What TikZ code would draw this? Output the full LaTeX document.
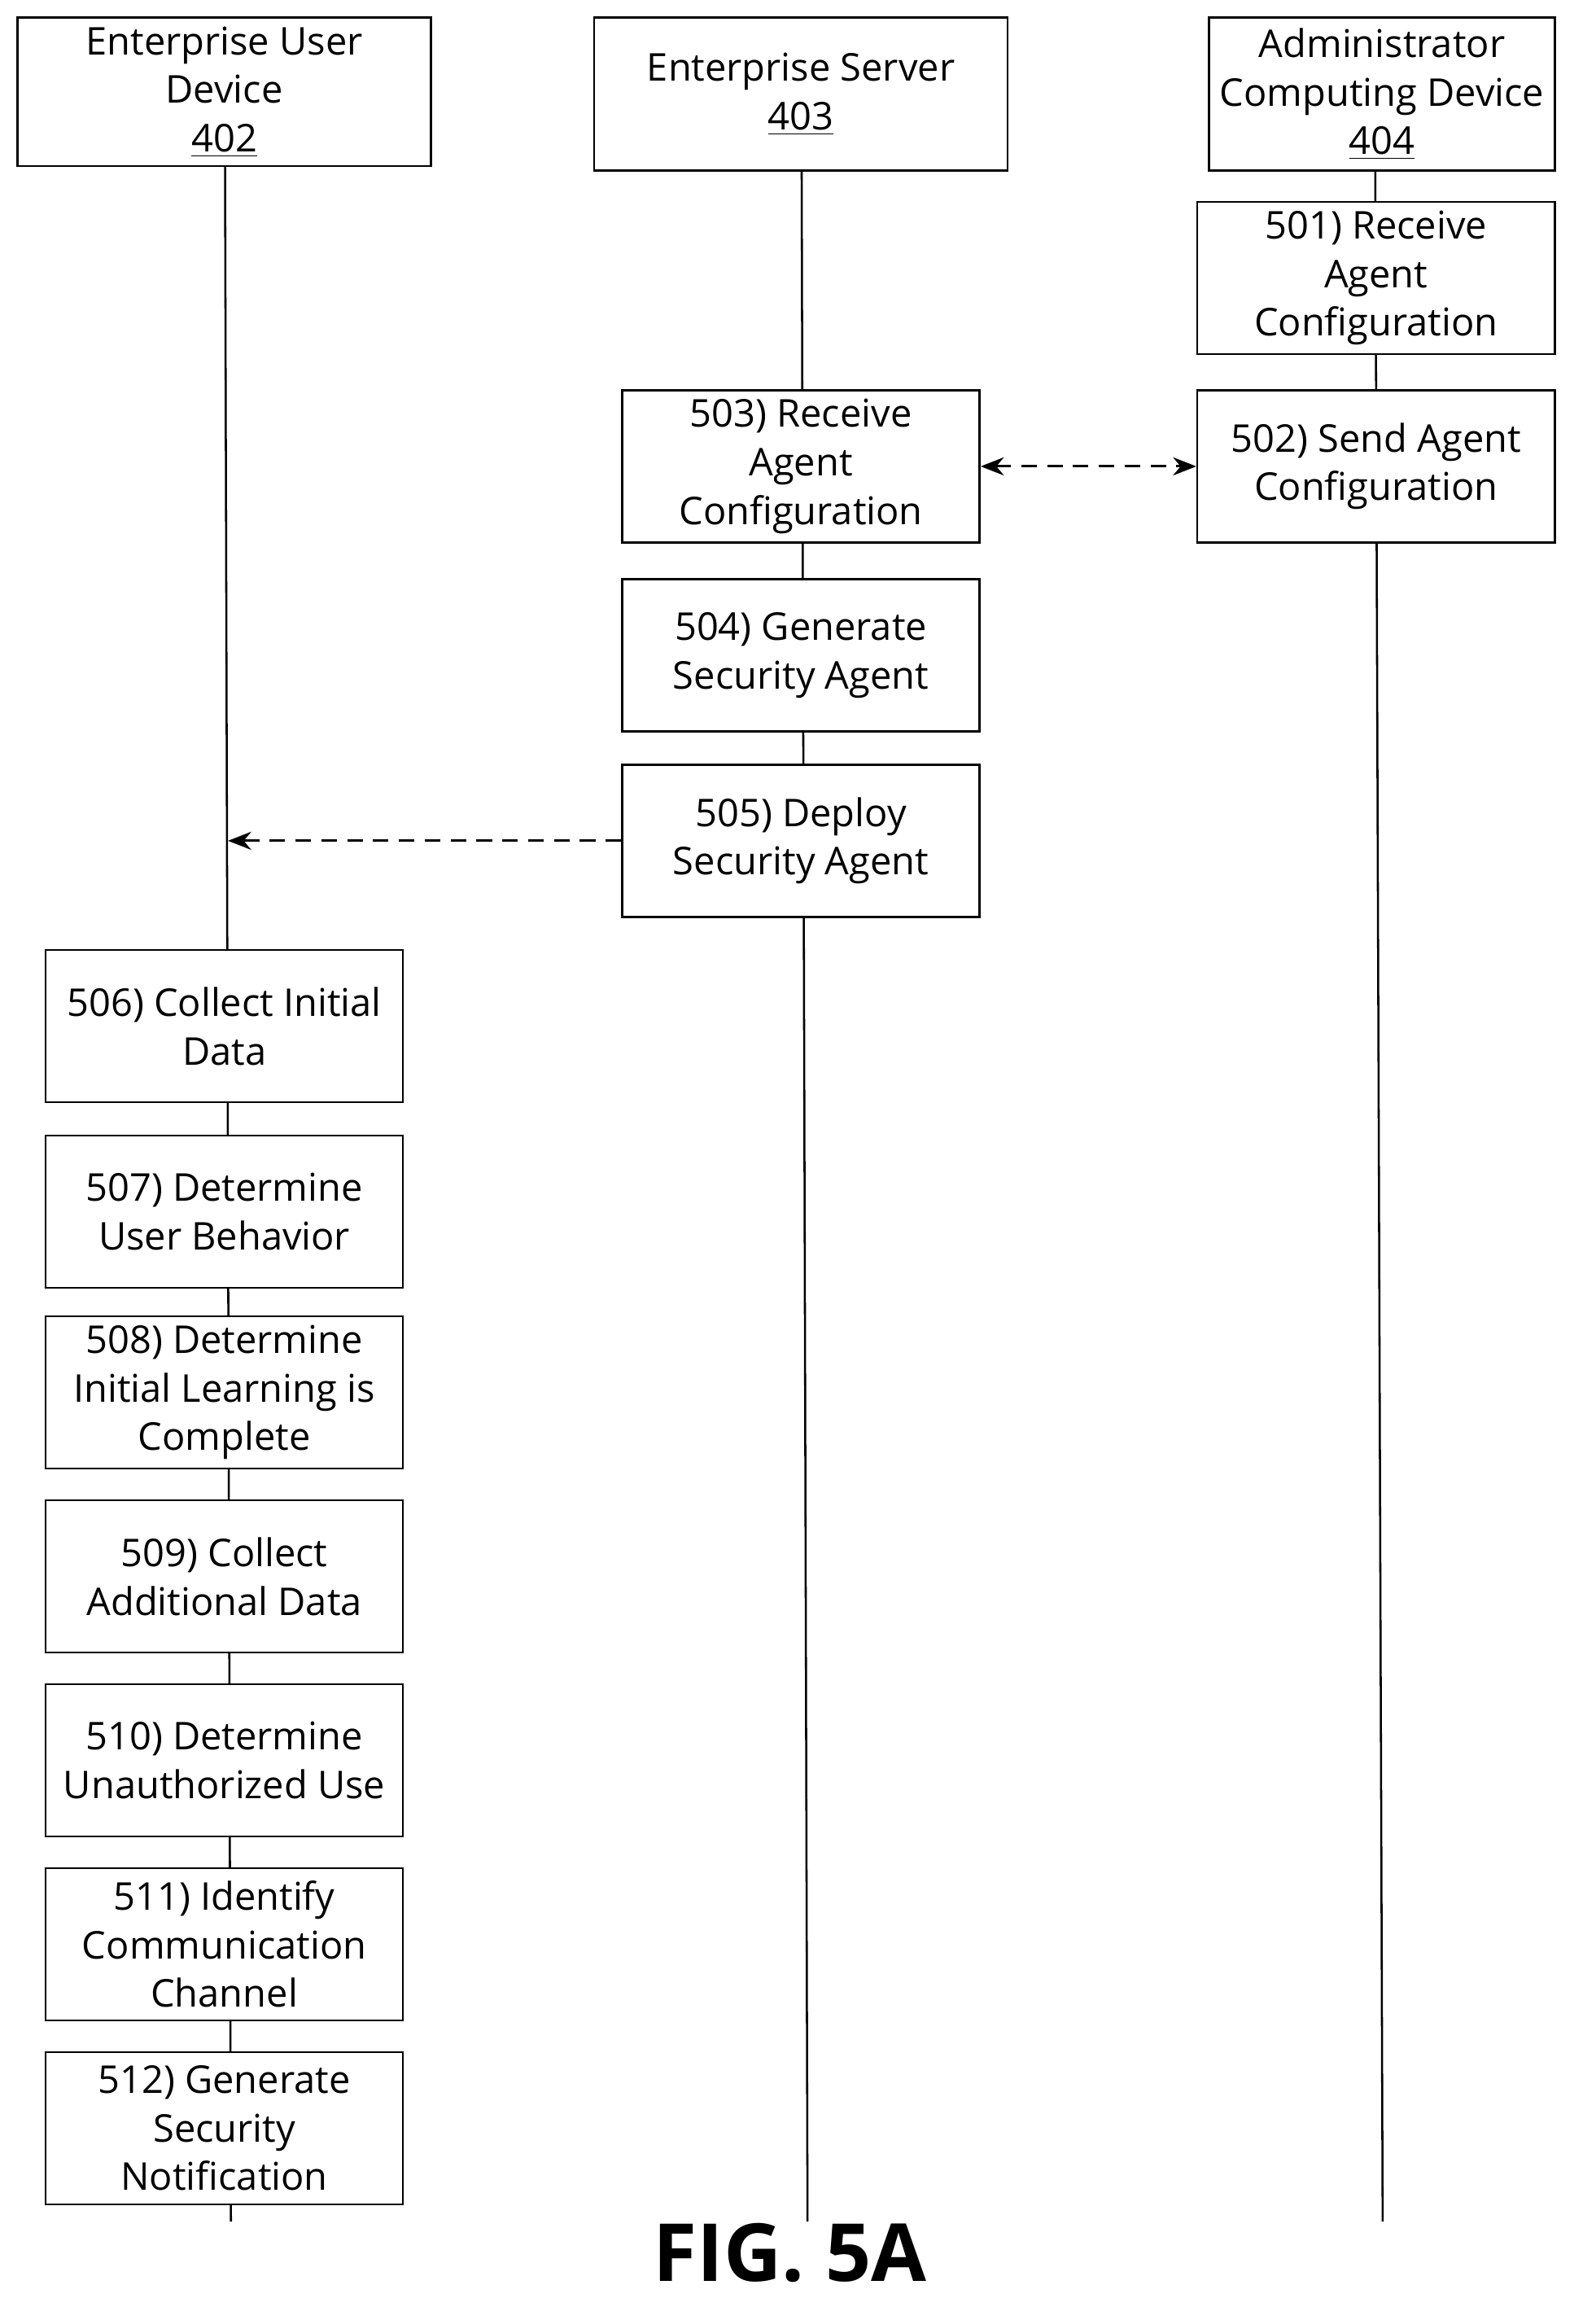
\documentclass[tikz,border=0pt]{standalone}
\usepackage{fontspec}
\setmainfont{Open Sans}
\usetikzlibrary{positioning, arrows.meta}

\tikzset{
  stepbox/.style={draw, fill=white, align=center, minimum width=4.86cm, minimum height=2.07cm,
    inner sep=2pt, font=\fontsize{14.8}{18.8}\selectfont},
  head/.style={stepbox, minimum height=2.04cm},
  life/.style={line width=0.8pt},
  msg/.style={line width=0.9pt, dash pattern=on 6pt off 4pt, -{Stealth[length=9pt, width=7pt]}},
}

\begin{document}
\begin{tikzpicture}[x=0.02cm, y=-0.02cm, line width=0.8pt]
    \useasboundingbox (0,0) rectangle (1085,1562);

    % lifelines
    \coordinate (L1) at (157,1510);
    \coordinate (L2) at (549,1510);
    \coordinate (L3) at (940,1510);
    \draw[life] (153,113) -- (L1);
    \draw[life] (545,116) -- (L2);
    \draw[life] (935,116) -- (L3);

    % headers
    \node (U) [head, minimum width=5.62cm, minimum height=2.02cm] at (152.5,62.5) {Enterprise User\\Device\\\underline{402}};
    \node (S) [head, minimum width=5.62cm, minimum height=2.08cm] at (544.5,64) {Enterprise Server\\\underline{403}};
    \node (A) [head, minimum width=4.7cm, minimum height=2.08cm] at (939.5,64) {Administrator\\Computing Device\\\underline{404}};

    % administrator steps
    \node (s501) [stepbox] at (935.5,189) {501) Receive\\Agent\\Configuration};
    \node (s502) [stepbox] at (935.5,317) {502) Send Agent\\Configuration};

    % server steps
    \node (s503) [stepbox] at (544.5,317) {503) Receive\\Agent\\Configuration};
    \node (s504) [stepbox] at (544.5,445.5) {504) Generate\\Security Agent};
    \node (s505) [stepbox] at (544.5,571.5) {505) Deploy\\Security Agent};

    % user device steps
    \node (s506) [stepbox] at (152.5,697.5) {506) Collect Initial\\Data};
    \node (s507) [stepbox] at (152.5,823.5) {507) Determine\\User Behavior};
    \node (s508) [stepbox] at (152.5,946.5) {508) Determine\\Initial Learning is\\Complete};
    \node (s509) [stepbox] at (152.5,1071.5) {509) Collect\\Additional Data};
    \node (s510) [stepbox] at (152.5,1196.5) {510) Determine\\Unauthorized Use};
    \node (s511) [stepbox] at (152.5,1321.5) {511) Identify\\Communication\\Channel};
    \node (s512) [stepbox] at (152.5,1446.5) {512) Generate\\Security\\Notification};

    % messages
    \coordinate (D1) at (155,571.5);
    \draw[msg, {Stealth[length=9pt, width=7pt]}-{Stealth[length=9pt, width=7pt]}] (s503) -- (s502);
    \draw[msg] (s505) -- (D1);

    \node (fig) at (537,1531) {\fontsize{31}{31}\selectfont\bfseries FIG. 5A};
\end{tikzpicture}
\end{document}
